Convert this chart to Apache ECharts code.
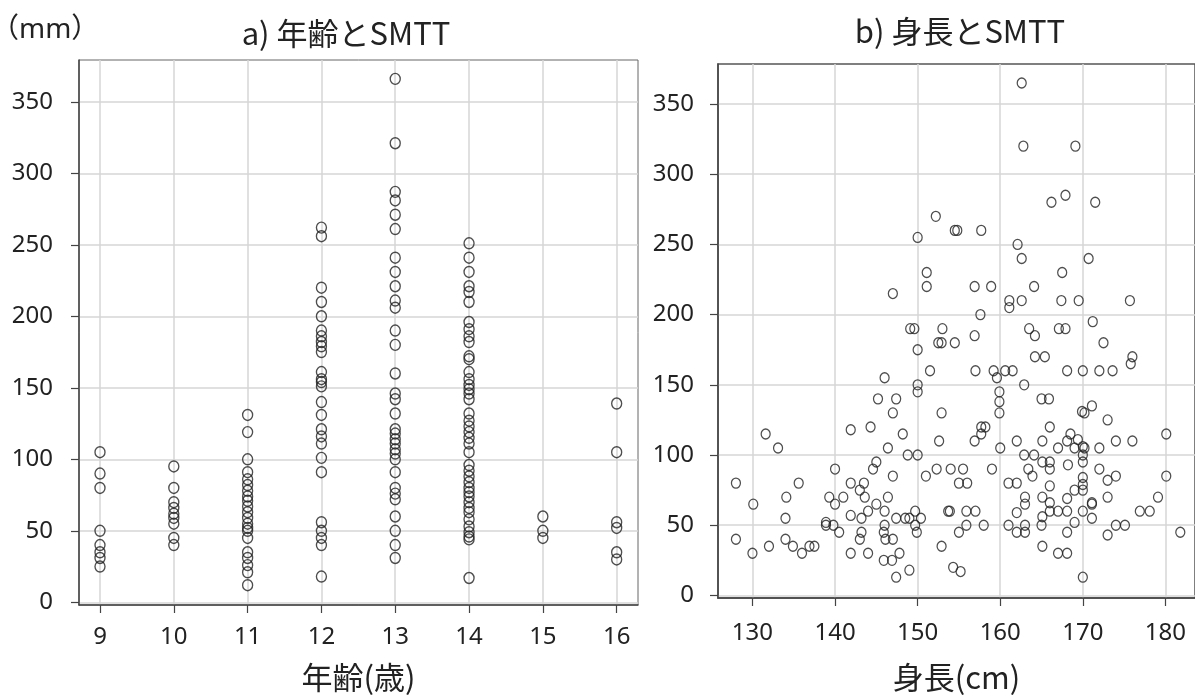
<!DOCTYPE html>
<html>
<head>
<meta charset="utf-8">
<script src="https://cdn.jsdelivr.net/npm/echarts@6/dist/echarts.min.js"></script>
<style>
  html, body { margin: 0; padding: 0; background: #fff; }
  #main { width: 1195px; height: 698px; }
</style>
</head>
<body>
<div id="main"></div>
<script>
// a) age vs SMTT (mm)
const ages = [9, 10, 11, 12, 13, 14, 15, 16];
const smtt9 = [105, 90, 80, 50, 40, 35, 31, 25];
const smtt10 = [95, 80, 70, 66, 62, 59, 55, 45, 40];
const smtt11 = [131, 119, 100, 91, 86, 82, 78, 74, 71, 67, 63, 59, 55, 52, 50, 45, 35, 31, 26, 21, 12];
const smtt12 = [262, 256, 220, 210, 200, 190, 186, 182, 179, 175, 161, 156, 154, 151, 140, 131, 121, 116, 111, 101, 91, 56, 50, 45, 40, 18];
const smtt13 = [366, 321, 287, 281, 271, 261, 241, 231, 221, 211, 206, 190, 180, 160, 146, 142, 132, 121, 118, 114, 111, 107, 104, 100, 91, 80, 76, 72, 60, 50, 40, 31];
const smtt14 = [251, 241, 231, 221, 217, 210, 196, 191, 186, 182, 172, 170, 161, 156, 152, 149, 146, 142, 132, 127, 123, 119, 115, 111, 105, 96, 92, 88, 84, 80, 77, 74, 70, 66, 63, 58, 53, 49, 46, 44, 17];
const smtt15 = [60, 50, 45];
const smtt16 = [139, 105, 56, 52, 35, 30];
const smttByAge = [smtt9, smtt10, smtt11, smtt12, smtt13, smtt14, smtt15, smtt16];

// b) height (cm) vs SMTT (mm)
const heightPoints = [
  [147.0,215],[150.0,255],[149.1,190],[149.6,190],
  [146.0,155],[145.2,140],[147.4,140],[147.0,130],[144.3,120],[141.9,118],[131.6,115],[148.2,115],
  [133.1,105],[146.4,105],[148.8,100],[145.0,95],[144.6,90],[140.0,90],[147.0,85],
  [128.0,80],[135.6,80],[141.9,80],[143.5,80],[143.0,75],
  [134.1,70],[139.3,70],[141.0,70],[143.6,70],[146.4,70],[130.1,65],[140.0,65],[145.0,65],
  [144.0,60],[146.0,60],[149.7,60],[141.9,57],[134.0,55],[143.2,55],[147.4,55],[148.5,55],[149.0,55],
  [138.9,52],[138.9,50],[139.8,50],[146.0,50],[149.7,50],
  [140.5,45],[143.2,45],[145.9,45],[149.9,45],[128.0,40],[134.0,40],[143.0,40],[146.1,40],[147.0,40],
  [132.0,35],[134.9,35],[136.9,35],[137.5,35],[130.0,30],[136.0,30],[141.9,30],[144.0,30],[147.8,30],
  [145.9,25],[146.9,25],[149.0,18],[147.4,13],[150.0,175],[150.0,150],[150.0,145],
  [162.6,365],[162.8,320],[169.1,320],[167.9,285],[166.2,280],[171.5,280],[152.2,270],
  [154.5,260],[154.8,260],[157.7,260],[162.1,250],[162.6,240],[170.7,240],[151.1,230],[167.5,230],
  [151.1,220],[156.9,220],[158.9,220],[164.1,220],[161.1,210],[161.1,205],[162.6,210],[167.4,210],
  [169.5,210],[175.7,210],[157.6,200],[171.2,195],[153.0,190],[156.9,185],[163.5,190],[164.2,185],
  [167.1,190],[167.9,190],
  [152.5,180],[152.9,180],[154.5,180],[172.5,180],[164.2,170],[165.4,170],[176.0,170],[175.8,165],
  [151.5,160],[157.0,160],[159.2,160],[159.6,155],[160.6,160],[161.5,160],[168.1,160],[170.0,160],
  [172.0,160],[173.6,160],[162.9,150],[159.9,145],[159.9,138],[159.9,130],[165.0,140],[165.9,140],
  [152.9,130],[169.9,131],[170.2,130],[171.1,135],[173.0,125],[157.7,120],[158.2,120],[157.7,115],
  [166.0,120],[168.5,115],[169.4,111],[152.6,110],[156.9,110],[162.0,110],[165.1,110],[168.1,110],
  [174.0,110],[176.0,110],[180.1,115],[160.0,105],[167.0,105],[169.0,105],[170.0,106],[170.2,105],
  [172.0,105],[150.0,100],[162.9,100],[164.1,100],[170.0,100],[170.0,95],[165.1,95],[166.0,95],
  [166.0,90],[168.2,93],[163.4,90],[163.9,85],[152.3,90],[154.0,90],[155.5,90],[159.0,90],[172.0,90],
  [174.0,85],[173.0,82],[151.0,85],[155.0,80],[156.0,80],[161.0,80],[162.0,80],[166.0,78],[170.0,84],
  [170.0,79],[170.0,75],[169.0,75],[163.0,70],[163.0,65],[165.1,70],[168.1,69],[173.0,70],[179.1,70],
  [166.0,66],[171.1,66],[171.1,65],[153.7,60],[153.9,60],[155.9,60],[157.0,60],[162.0,59],[166.0,60],
  [167.0,60],[168.1,60],[170.0,60],[176.9,60],[178.1,60],[150.4,55],[165.1,56],[171.1,55],
  [155.9,50],[158.0,50],[161.0,50],[163.0,50],[165.0,50],[169.0,52],[174.0,50],[175.1,50],
  [155.0,45],[162.0,45],[163.0,45],[168.1,45],[173.0,43],[181.8,45],[152.9,35],[165.1,35],
  [167.0,30],[168.1,30],[154.3,20],[155.2,17],[170.0,13],[180.1,85]
];

const smttTicks = [0, 50, 100, 150, 200, 250, 300, 350];
const heightTicks = [130, 140, 150, 160, 170, 180];

const FONT = "'Noto Sans', 'Noto Sans CJK JP', sans-serif";
const CJK = "'Noto Sans CJK JP', sans-serif";
const axisColor = '#444';
const gridColor = '#d6d6d6';

function valueAxis(opts) {
  return {
    type: 'value',
    gridIndex: opts.grid,
    min: opts.min,
    max: opts.max,
    name: opts.name || '',
    nameLocation: 'middle',
    nameGap: opts.nameGap || 0,
    nameTextStyle: { fontFamily: CJK, fontSize: 31, color: '#222' },
    axisLine: { show: true, onZero: false, lineStyle: { color: axisColor, width: 1.5 } },
    axisTick: { show: true, inside: false, length: 8, customValues: opts.ticks, lineStyle: { color: axisColor, width: 1.2 } },
    axisLabel: { customValues: opts.ticks, margin: opts.margin, fontFamily: FONT, fontSize: 24, color: '#222' },
    splitLine: { show: true, lineStyle: { color: gridColor, width: 1.5 } }
  };
}

const ageData = [];
ages.forEach((a, i) => smttByAge[i].forEach(v => ageData.push([a, v])));

const chart = echarts.init(document.getElementById('main'), null, { renderer: 'canvas' });
const option = {
  backgroundColor: '#fff',
  animation: false,
  title: [
    { text: '（mm）', left: -9, top: 16, padding: 0, textStyle: { fontFamily: FONT, fontSize: 28, fontWeight: 'normal', color: '#222' } },
    { text: 'a) 年齢とSMTT', left: 346, top: 18, padding: 0, textAlign: 'center', textStyle: { fontFamily: CJK, fontSize: 31, fontWeight: 'normal', color: '#222' } },
    { text: 'b) 身長とSMTT', left: 960, top: 16, padding: 0, textAlign: 'center', textStyle: { fontFamily: CJK, fontSize: 31, fontWeight: 'normal', color: '#222' } }
  ],
  grid: [
    { left: 79, top: 60, width: 559, height: 545.7, show: true, borderColor: '#666', borderWidth: 1, backgroundColor: 'transparent' },
    { left: 718, top: 64, width: 480, height: 539.3, show: true, borderColor: '#555', borderWidth: 1.5, backgroundColor: 'transparent' }
  ],
  xAxis: [
    valueAxis({ grid: 0, min: 8.7155, max: 16.289, ticks: ages, margin: 20, name: '年齢(歳)', nameGap: 57 }),
    valueAxis({ grid: 1, min: 125.83, max: 183.58, ticks: heightTicks, margin: 23, name: '身長(cm)', nameGap: 64 })
  ],
  yAxis: [
    valueAxis({ grid: 0, min: -1.88, max: 379.2, ticks: smttTicks, margin: 26 }),
    valueAxis({ grid: 1, min: -1.83, max: 378.5, ticks: smttTicks, margin: 24 })
  ],
  series: [
    {
      type: 'scatter', xAxisIndex: 0, yAxisIndex: 0,
      symbol: 'circle', symbolSize: [10, 11],
      itemStyle: { color: 'rgba(0,0,0,0)', borderColor: '#222', borderWidth: 1.4 },
      data: ageData
    },
    {
      type: 'scatter', xAxisIndex: 1, yAxisIndex: 1,
      symbol: 'circle', symbolSize: [9, 10],
      itemStyle: { color: 'rgba(0,0,0,0)', borderColor: '#222', borderWidth: 1.3 },
      data: heightPoints
    }
  ]
};
chart.setOption(option);
</script>
</body>
</html>
